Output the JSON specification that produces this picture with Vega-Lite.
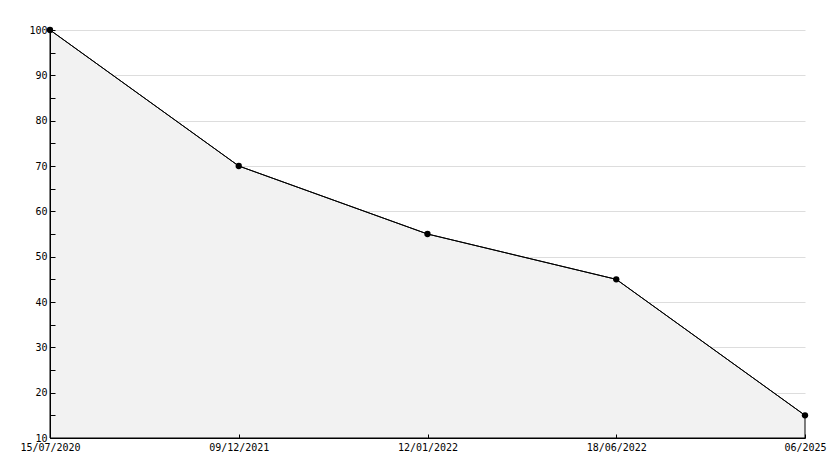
{
  "$schema": "https://vega.github.io/schema/vega-lite/v6.json",
  "width": 755,
  "height": 408,
  "autosize": {"type": "none"},
  "padding": {"left": 50, "top": 30, "right": 29, "bottom": 30},
  "background": "white",
  "config": {
    "view": {"stroke": null},
    "axis": {"labelFont": "DejaVu Sans Mono", "labelFontSize": 10, "labelColor": "black", "domainColor": "black", "tickColor": "black"}
  },
  "data": {"values": [
    {"date": "15/07/2020", "value": 100},
    {"date": "09/12/2021", "value": 70},
    {"date": "12/01/2022", "value": 55},
    {"date": "18/06/2022", "value": 45},
    {"date": "06/2025", "value": 15}
  ]},
  "encoding": {
    "x": {"field": "date", "type": "ordinal", "sort": null,
      "scale": {"type": "point", "padding": 0},
      "axis": {"title": null, "labelAngle": 0, "tickSize": -4, "labelPadding": 8, "grid": false, "labelFlush": false, "zindex": 1}}
  },
  "layer": [
    {"mark": {"type": "area", "color": "#f2f2f2", "stroke": "black", "strokeWidth": 1},
     "encoding": {
       "y": {"field": "value", "type": "quantitative",
         "scale": {"domain": [10, 100], "nice": false, "zero": false},
         "axis": {"title": null, "orient": "left", "values": [20,30,40,50,60,70,80,90,100],
           "labels": false, "ticks": false, "domain": false, "zindex": 0,
           "grid": true, "gridColor": "#dddddd"}},
       "y2": {"datum": 10}}},
    {"mark": {"type": "line", "color": "black", "strokeWidth": 1},
     "encoding": {
       "y": {"field": "value", "type": "quantitative",
         "scale": {"domain": [10, 100], "nice": false, "zero": false},
         "axis": {"title": null, "orient": "left", "values": [10,15,20,25,30,35,40,45,50,55,60,65,70,75,80,85,90,95,100],
           "labelExpr": "datum.value % 10 == 0 ? datum.label : ''",
           "tickSize": -5, "labelPadding": 8, "labelFlush": false, "zindex": 1, "grid": false}}}},
    {"mark": {"type": "point", "filled": true, "color": "black", "size": 40, "opacity": 1},
     "encoding": {"y": {"field": "value", "type": "quantitative", "axis": null}}}
  ],
  "resolve": {"axis": {"y": "independent"}}
}
